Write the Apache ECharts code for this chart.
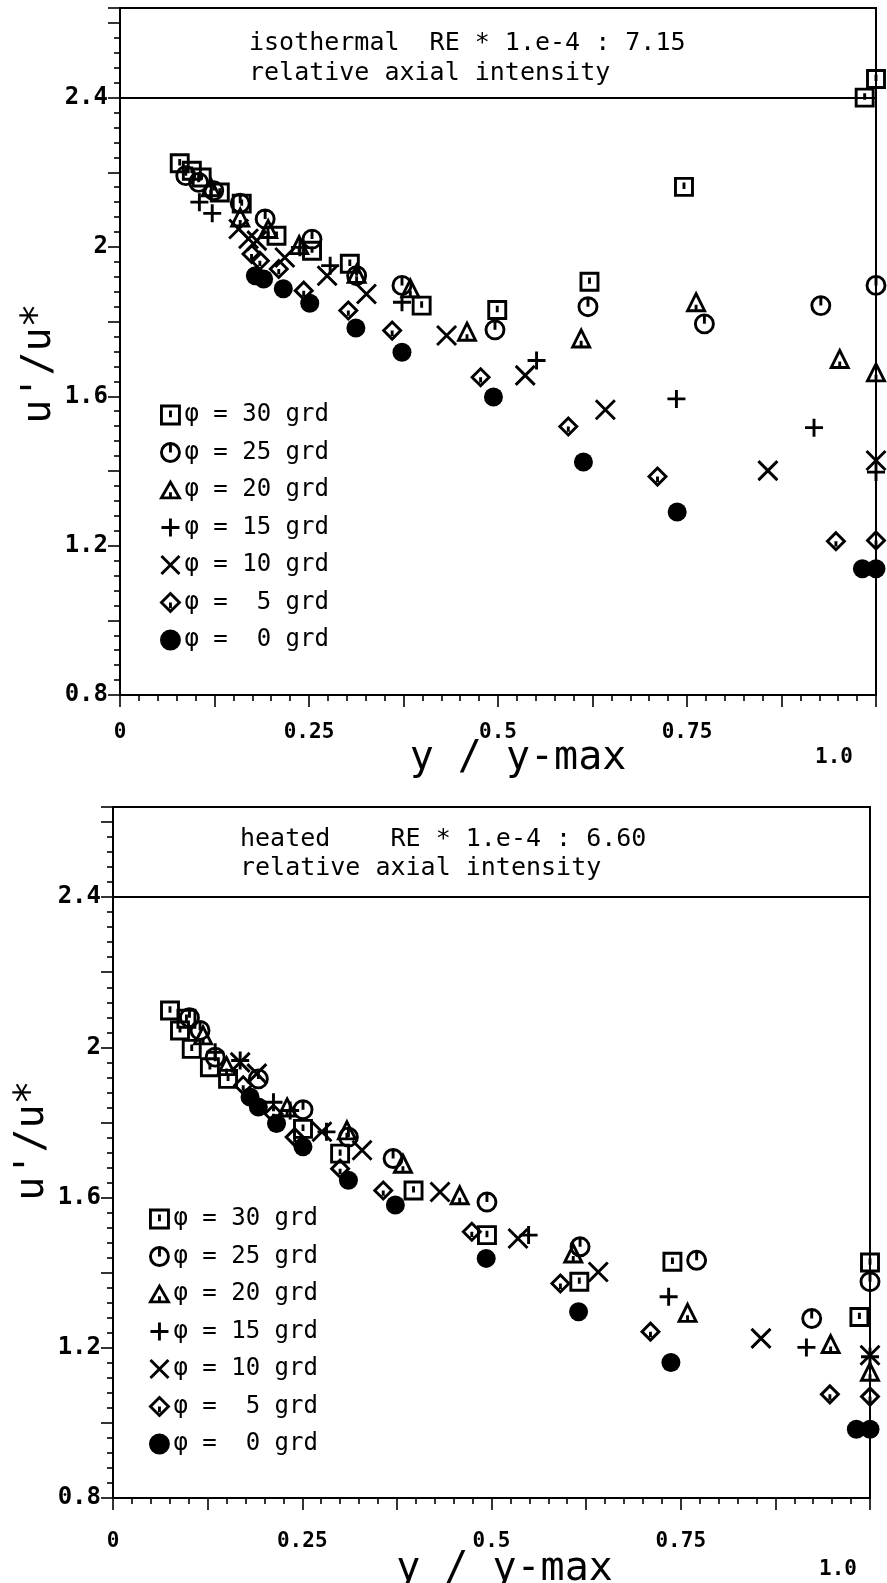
<!DOCTYPE html>
<html><head><meta charset="utf-8">
<script src="https://cdn.jsdelivr.net/npm/echarts@6/dist/echarts.min.js"></script>
<style>html,body{margin:0;padding:0;background:#fff}#c{width:887px;height:1583px}</style>
</head><body><div id="c"></div>
<script>
// ---------- data ----------
const seriesNames = ['φ = 30 grd','φ = 25 grd','φ = 20 grd','φ = 15 grd','φ = 10 grd','φ =  5 grd','φ =  0 grd'];

const titleTop = ['isothermal  RE * 1.e-4 : 7.15', 'relative axial intensity'];
const titleBottom = ['heated    RE * 1.e-4 : 6.60', 'relative axial intensity'];
const xAxisTitle = 'y / y-max';
const yAxisTitle = "u'/u*";
const xTickValues = [0, 0.25, 0.5, 0.75, 1.0];
const xTickLabels = ['0', '0.25', '0.5', '0.75', '1.0'];
const yTickValues = [0.8, 1.2, 1.6, 2.0, 2.4];
const yTickLabels = ['0.8', '1.2', '1.6', '2', '2.4'];

// isothermal panel
const iso30 = [[0.079,2.224],[0.095,2.204],[0.108,2.186],[0.132,2.146],[0.161,2.116],[0.207,2.03],[0.254,1.99],[0.304,1.955],[0.399,1.843],[0.499,1.831],[0.621,1.907],[0.746,2.161],[0.985,2.40],[1.0,2.45]];
const iso25 = [[0.087,2.191],[0.104,2.173],[0.124,2.151],[0.159,2.117],[0.192,2.075],[0.254,2.021],[0.313,1.923],[0.373,1.897],[0.496,1.778],[0.619,1.84],[0.773,1.794],[0.927,1.843],[1.0,1.897]];
const iso20 = [[0.12,2.16],[0.159,2.079],[0.196,2.048],[0.237,2.005],[0.313,1.928],[0.384,1.889],[0.459,1.773],[0.610,1.755],[0.762,1.852],[0.952,1.70],[1.0,1.664]];
const iso15 = [[0.105,2.12],[0.122,2.09],[0.238,1.999],[0.278,1.95],[0.373,1.852],[0.551,1.696],[0.736,1.593],[0.918,1.516],[1.0,1.397]];
const iso10 = [[0.157,2.048],[0.170,2.022],[0.181,2.017],[0.218,1.972],[0.274,1.923],[0.326,1.874],[0.432,1.763],[0.536,1.656],[0.642,1.564],[0.857,1.401],[1.0,1.428]];
const iso5  = [[0.174,1.981],[0.185,1.963],[0.21,1.941],[0.243,1.883],[0.302,1.83],[0.36,1.776],[0.477,1.651],[0.593,1.519],[0.711,1.385],[0.947,1.212],[1.0,1.214]];
const iso0  = [[0.179,1.923],[0.190,1.914],[0.216,1.888],[0.251,1.849],[0.312,1.783],[0.373,1.718],[0.494,1.598],[0.613,1.424],[0.737,1.29],[0.982,1.138],[1.0,1.138]];

// heated panel
const hot30 = [[0.0753,2.098],[0.097,2.076],[0.0885,2.045],[0.104,1.996],[0.128,1.947],[0.152,1.916],[0.251,1.783],[0.30,1.717],[0.397,1.619],[0.494,1.50],[0.616,1.376],[0.739,1.429],[0.986,1.282],[1.0,1.427]];
const hot25 = [[0.101,2.079],[0.115,2.045],[0.135,1.974],[0.192,1.916],[0.251,1.834],[0.311,1.761],[0.370,1.704],[0.494,1.588],[0.617,1.469],[0.771,1.433],[0.923,1.278],[1.0,1.376]];
const hot20 = [[0.119,2.032],[0.15,1.95],[0.23,1.84],[0.309,1.779],[0.383,1.69],[0.458,1.606],[0.608,1.451],[0.759,1.293],[0.948,1.21],[1.0,1.136]];
const hot15 = [[0.135,1.987],[0.168,1.965],[0.212,1.854],[0.234,1.832],[0.282,1.775],[0.549,1.50],[0.734,1.336],[0.916,1.201],[1.0,1.176]];
const hot10 = [[0.168,1.96],[0.19,1.93],[0.276,1.775],[0.329,1.726],[0.432,1.615],[0.535,1.491],[0.641,1.402],[0.856,1.225],[1.0,1.18]];
const hot5  = [[0.172,1.899],[0.212,1.823],[0.24,1.761],[0.30,1.677],[0.357,1.619],[0.474,1.509],[0.591,1.371],[0.71,1.243],[0.947,1.076],[1.0,1.07]];
const hot0  = [[0.181,1.868],[0.192,1.841],[0.216,1.797],[0.251,1.735],[0.311,1.646],[0.373,1.58],[0.493,1.438],[0.615,1.296],[0.737,1.161],[0.982,0.983],[1.0,0.983]];

const isoData = [iso30, iso25, iso20, iso15, iso10, iso5, iso0];
const hotData = [hot30, hot25, hot20, hot15, hot10, hot5, hot0];

// ---------- style ----------
const MONO = '"DejaVu Sans Mono", "Liberation Mono", monospace';
const symbolDefs = [
  {symbol: 'path://M0,0L16,0L16,16L0,16Z M8,4L8,10', size: 17, filled: false},
  {symbol: 'path://M8,0A8,8,0,1,1,7.99,0Z M8,0L8,8', size: 18, filled: false},
  {symbol: 'path://M8,0L16,14L0,14Z M8,14L8,9', size: 17, filled: false},
  {symbol: 'path://M8,0L8,16M0,8L16,8', size: 18, filled: false},
  {symbol: 'path://M0,0L16,16M16,0L0,16', size: 19, filled: false},
  {symbol: 'path://M8,0L16,8L8,16L0,8Z M8,8L8,13', size: 17, filled: false},
  {symbol: 'circle', size: 19, filled: true}
];

function makeSeries(dataSets, idx) {
  return dataSets.map((d, i) => {
    const s = symbolDefs[i];
    const ser = {
      type: 'scatter', name: seriesNames[i], xAxisIndex: idx, yAxisIndex: idx,
      data: d, symbol: s.symbol, symbolSize: s.size,
      itemStyle: s.filled ? {color: '#000', borderColor: '#000', borderWidth: 0, opacity: 1}
                          : {color: 'rgba(0,0,0,0)', borderColor: '#000', borderWidth: 2.9, opacity: 1},
      emphasis: {disabled: true}, silent: true, clip: false
    };
    if (i === 0) {
      ser.markLine = {silent: true, symbol: ['none','none'], label: {show: false},
        lineStyle: {color: '#000', width: 2, type: 'solid', opacity: 1}, data: [{yAxis: 2.4}]};
    }
    return ser;
  });
}

function matchLabel(v, vals, labs) {
  for (let i = 0; i < vals.length; i++) if (Math.abs(v - vals[i]) < 1e-6) return labs[i];
  return '';
}

function xAxisCfg(idx, lowPad, labelMargin, nameGap, namePad) {
  return {
    type: 'value', gridIndex: idx, min: 0, max: 1, interval: 0.125,
    axisLine: {show: true, onZero: false, lineStyle: {color: '#000', width: 2}},
    axisTick: {show: true, inside: false, length: 12, lineStyle: {color: '#000', width: 1.6}},
    minorTick: {show: true, splitNumber: 5, length: 6, lineStyle: {color: '#000', width: 1.6}},
    splitLine: {show: false},
    axisLabel: {
      margin: labelMargin, color: '#000', fontFamily: MONO, fontSize: 21, fontWeight: 'bold',
      showMaxLabel: true, showMinLabel: true,
      formatter: v => {
        const t = matchLabel(v, xTickValues, xTickLabels);
        if (t && Math.abs(v - 1) < 1e-6) return '{low|' + t + '}';
        return t;
      },
      rich: {low: {fontFamily: MONO, fontSize: 21, fontWeight: 'bold', color: '#000', padding: lowPad}}
    },
    name: xAxisTitle, nameLocation: 'middle', nameGap: nameGap, nameMoveOverlap: false,
    nameTextStyle: {fontFamily: MONO, fontSize: 40, color: '#000', padding: namePad}
  };
}

function yAxisCfg(idx, namePad) {
  return {
    type: 'value', gridIndex: idx, min: 0.8, max: 2.64, interval: 0.2,
    axisLine: {show: true, onZero: false, lineStyle: {color: '#000', width: 2}},
    axisTick: {show: true, inside: false, length: 12, lineStyle: {color: '#000', width: 1.6}},
    minorTick: {show: true, splitNumber: 5, length: 6, lineStyle: {color: '#000', width: 1.6}},
    splitLine: {show: false},
    axisLabel: {
      margin: 12, color: '#000', fontFamily: MONO, fontSize: 24, fontWeight: 'bold',
      formatter: v => matchLabel(v, yTickValues, yTickLabels)
    },
    name: yAxisTitle, nameLocation: 'middle', nameRotate: 90, nameGap: 60, nameMoveOverlap: false,
    nameTextStyle: {fontFamily: MONO, fontSize: 40, color: '#000', padding: namePad}
  };
}

function legendCfg(left, top) {
  return {
    data: seriesNames, orient: 'vertical', left: left, top: top,
    itemWidth: 18, itemHeight: 18, itemGap: 13.5, selectedMode: false,
    itemStyle: {borderWidth: 2.9},
    textStyle: {fontFamily: MONO, fontSize: 24, color: '#000'}
  };
}

const chart = echarts.init(document.getElementById('c'), null, {renderer: 'canvas'});
chart.setOption({
  animation: false,
  backgroundColor: '#fff',
  title: [
    {text: titleTop.join('\n'), left: 244, top: 23,
     textStyle: {fontFamily: MONO, fontSize: 25, fontWeight: 'normal', color: '#000', lineHeight: 30}},
    {text: titleBottom.join('\n'), left: 235, top: 820,
     textStyle: {fontFamily: MONO, fontSize: 25, fontWeight: 'normal', color: '#000', lineHeight: 29}}
  ],
  grid: [
    {left: 120, top: 8, width: 756, height: 687, show: true, borderColor: '#000', borderWidth: 2,
     backgroundColor: 'transparent', outerBoundsMode: 'none', containLabel: false},
    {left: 113, top: 807, width: 757, height: 691, show: true, borderColor: '#000', borderWidth: 2,
     backgroundColor: 'transparent', outerBoundsMode: 'none', containLabel: false}
  ],
  xAxis: [xAxisCfg(0, [25, 84, 0, 0], 27, 44, [0, 0, 0, 40]), xAxisCfg(1, [28, 64, 0, 0], 33, 52, [0, 0, 0, 26])],
  yAxis: [yAxisCfg(0, [0, 24, 0, 0]), yAxisCfg(1, [0, 0, 0, 24])],
  legend: [legendCfg(155, 398), legendCfg(144, 1202)],
  series: makeSeries(isoData, 0).concat(makeSeries(hotData, 1))
});
</script>
</body></html>
